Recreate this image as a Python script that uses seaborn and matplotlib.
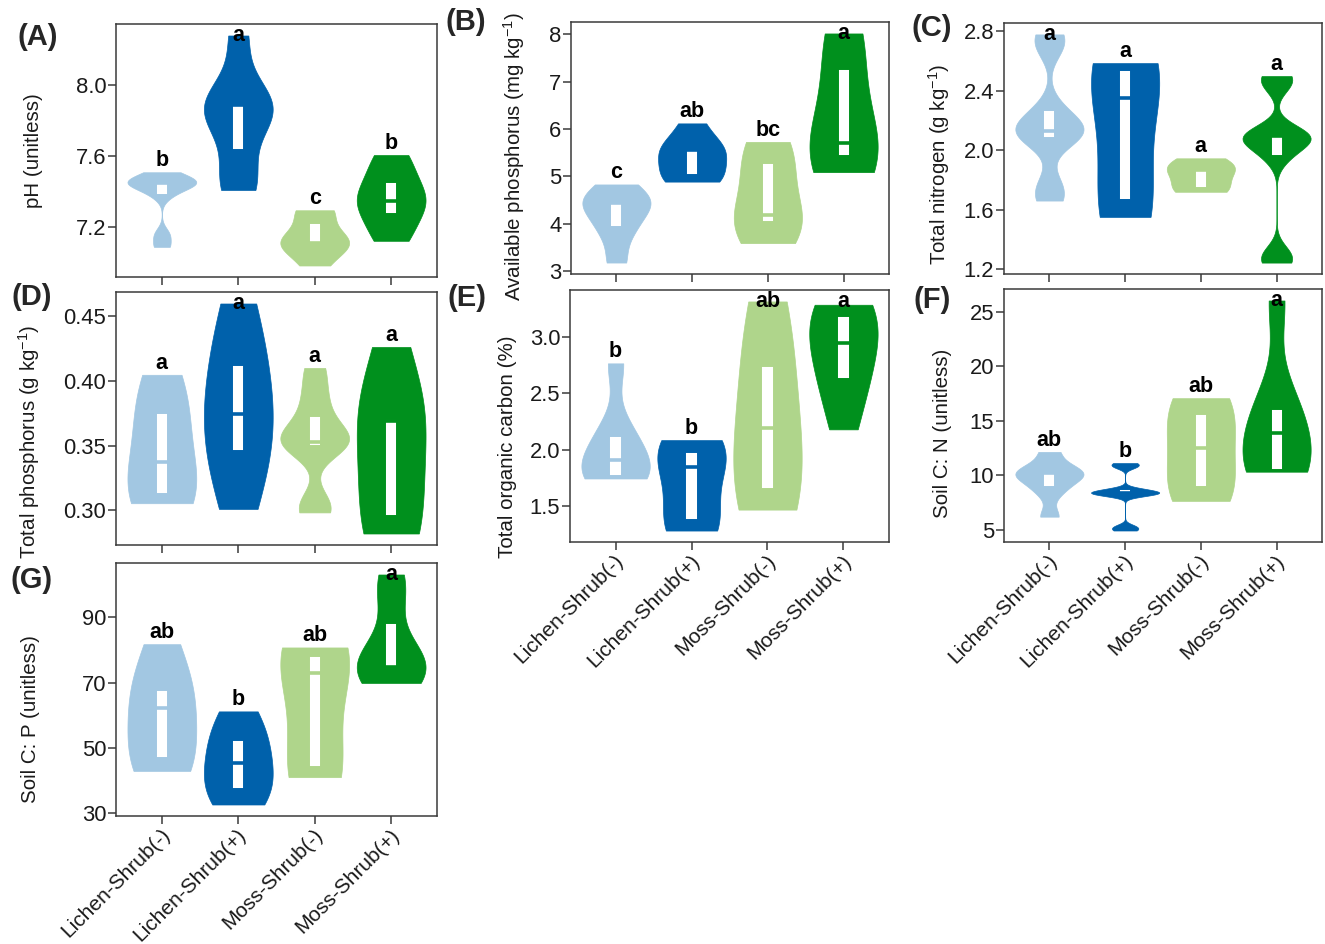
import numpy as np
import pandas as pd
import matplotlib
matplotlib.use('Agg')
import matplotlib.pyplot as plt
import matplotlib.transforms as mtransforms
import seaborn as sns

sns.set_style('ticks')
plt.rcParams['font.family'] = ['Liberation Sans', 'DejaVu Sans']
plt.rcParams['mathtext.fontset'] = 'custom'
plt.rcParams['mathtext.rm'] = 'Liberation Sans'
plt.rcParams['mathtext.it'] = 'Liberation Sans:italic'
plt.rcParams['mathtext.bf'] = 'Liberation Sans:bold'

groups = ['Lichen-Shrub(-)', 'Lichen-Shrub(+)', 'Moss-Shrub(-)', 'Moss-Shrub(+)']
palette = ['#a2c7e2', '#0061ab', '#afd58b', '#00901d']

ph = [
    [7.09, 7.16, 7.383, 7.43, 7.45, 7.45, 7.454, 7.48, 7.51],
    [7.41, 7.50, 7.77, 7.89, 7.89, 7.91, 8.28],
    [6.985, 7.09, 7.11, 7.11, 7.16, 7.29, 7.296],
    [7.124, 7.22, 7.33, 7.35, 7.40, 7.514, 7.607],
]
avail_p = [
    [3.18, 3.80, 4.06, 4.43, 4.46, 4.50, 4.83],
    [4.89, 4.98, 5.06, 5.55, 5.56, 5.58, 6.12],
    [3.59, 3.95, 4.11, 4.19, 5.10, 5.46, 5.73],
    [5.09, 5.36, 5.50, 5.71, 6.70, 7.84, 8.02],
]
total_n = [
    [1.663, 1.76, 2.083, 2.12, 2.131, 2.17, 2.274, 2.70, 2.78],
    [1.553, 1.62, 1.72, 2.35, 2.50, 2.578, 2.587],
    [1.722, 1.73, 1.766, 1.87, 1.88, 1.89, 1.947],
    [1.246, 1.30, 1.962, 2.05, 2.10, 2.10, 2.105, 2.45, 2.50],
]
total_p = [
    [0.3056, 0.310, 0.3148, 0.3373, 0.368, 0.3834, 0.4049],
    [0.3012, 0.335, 0.357, 0.3745, 0.40, 0.425, 0.460],
    [0.2985, 0.305, 0.350, 0.352, 0.353, 0.360, 0.3727, 0.390, 0.4102],
    [0.2822, 0.29, 0.3018, 0.369, 0.370, 0.372, 0.4264],
]
toc = [
    [1.746, 1.76, 1.778, 1.905, 2.05, 2.184, 2.763],
    [1.286, 1.33, 1.426, 1.85, 1.95, 2.004, 2.085],
    [1.471, 1.56, 1.746, 2.195, 2.50, 2.978, 3.31],
    [2.18, 2.55, 2.698, 2.942, 3.10, 3.26, 3.281],
]
soil_cn = [
    [6.21, 8.5, 9.46, 10.2, 10.3, 10.46, 12.16],
    [4.94, 5.3, 8.23, 8.3, 8.4, 8.55, 8.71, 10.8, 11.13],
    [7.66, 8.5, 9.36, 12.55, 14.8, 16.48, 17.09],
    [10.34, 10.45, 10.59, 13.91, 15.0, 17.24, 26.06],
]
soil_cp = [
    [42.97, 45.0, 48.6, 62.1, 64.0, 71.2, 81.77],
    [32.7, 36.0, 39.0, 45.3, 50.0, 55.0, 61.2],
    [41.07, 43.0, 45.6, 72.9, 76.0, 80.3, 80.77],
    [69.9, 73.5, 74.9, 74.9, 80.0, 96.4, 103.1],
]

# significance letters
ph_letters = ['b', 'a', 'c', 'b']
avail_p_letters = ['c', 'ab', 'bc', 'a']
total_n_letters = ['a', 'a', 'a', 'a']
total_p_letters = ['a', 'a', 'a', 'a']
toc_letters = ['b', 'b', 'ab', 'a']
soil_cn_letters = ['ab', 'b', 'ab', 'a']
soil_cp_letters = ['ab', 'b', 'ab', 'a']

ph_ticks = [7.2, 7.6, 8.0]
avail_p_ticks = [3, 4, 5, 6, 7, 8]
total_n_ticks = [1.2, 1.6, 2.0, 2.4, 2.8]
total_p_ticks = [0.30, 0.35, 0.40, 0.45]
toc_ticks = [1.5, 2.0, 2.5, 3.0]
soil_cn_ticks = [5, 10, 15, 20, 25]
soil_cp_ticks = [30, 50, 70, 90]


def nrd0(vals):
    # R's default violin bandwidth, as a factor of the sample sd
    vals = np.asarray(vals)
    sd = vals.std(ddof=1)
    q75, q25 = np.percentile(vals, [75, 25])
    lo = min(sd, (q75 - q25) / 1.34) if q75 > q25 else sd
    return 0.9 * lo * len(vals) ** -0.2 / sd


def panel(ax, values, letters, ylabel, ticks, fmt, show_x, label_xy):
    df = pd.DataFrame({
        'group': np.repeat(groups, [len(v) for v in values]),
        'value': np.concatenate(values),
    })
    for g, c, v in zip(groups, palette, values):
        sub = df[df['group'] == g]
        sns.violinplot(data=sub, x='group', y='value', order=groups, color=c,
                       saturation=1, inner=None, cut=0, density_norm='width',
                       width=0.9, linewidth=0.5, linecolor=c,
                       bw_method=nrd0(v), bw_adjust=1.25, ax=ax)
        sns.boxplot(data=sub, x='group', y='value', order=groups, color='white',
                    linecolor=c, saturation=1, width=0.16, linewidth=1.4,
                    whis=0, showfliers=False, showcaps=False,
                    medianprops={'linewidth': 2.6}, ax=ax)
    top = max(max(v) for v in values)
    bot = min(min(v) for v in values)
    rng = top - bot
    for i, (v, lab) in enumerate(zip(values, letters)):
        y = min(max(v) + 0.05 * rng, top)
        ax.text(i, y, lab, ha='center', va='center', fontsize=15.5,
                fontweight='bold', color='black')
    ax.set_ylim(bot - 0.05 * rng, top + 0.05 * rng)
    ax.set_xlim(-0.6, 3.6)
    ax.set_yticks(ticks)
    ax.set_yticklabels([fmt.format(t) for t in ticks])
    ax.set_xlabel('')
    ax.set_ylabel(ylabel, fontsize=14.8, color='#1a1a1a')
    ax.yaxis.set_label_coords(*label_xy)
    for s in ax.spines.values():
        s.set_color('#3a3a3a')
        s.set_linewidth(1.1)
    ax.tick_params(axis='both', length=6, width=1.1, color='#3a3a3a',
                   labelsize=15.8, labelcolor='#1a1a1a', pad=1.0)
    if show_x:
        ax.set_xticks(range(len(groups)))
        ax.set_xticklabels(groups, rotation=45, ha='right', va='center',
                           rotation_mode='anchor', fontsize=15)
        ax.tick_params(axis='x', pad=4)
        shift = mtransforms.ScaledTranslation(0.05, -0.02, fig.dpi_scale_trans)
        for t in ax.get_xticklabels():
            t.set_transform(t.get_transform() + shift)
    else:
        ax.tick_params(labelbottom=False)


W, H = 1325, 944
fig = plt.figure(figsize=(W / 100, H / 100), dpi=100)


def px_axes(l, t, r, b):
    return fig.add_axes([l / W, 1 - b / H, (r - l) / W, (b - t) / H])


axA = px_axes(116, 24, 437, 277)
axD = px_axes(116, 292, 437, 545)
axG = px_axes(116, 563, 437, 816)
axB = px_axes(571, 22, 889, 274)
axE = px_axes(570, 290, 889, 542)
axC = px_axes(1004, 23, 1322, 274)
axF = px_axes(1004, 289, 1322, 542)

panel(axA, ph, ph_letters, 'pH (unitless)', ph_ticks, '{:.1f}', False,
      (-0.227, 0.5))
panel(axB, avail_p, avail_p_letters, 'Available phosphorus (mg kg$^{-1}$)',
      avail_p_ticks, '{:d}', False, (-0.138, 0.468))
panel(axC, total_n, total_n_letters, 'Total nitrogen (g kg$^{-1}$)',
      total_n_ticks, '{:.1f}', False, (-0.164, 0.438))
panel(axD, total_p, total_p_letters, 'Total phosphorus (g kg$^{-1}$)',
      total_p_ticks, '{:.2f}', False, (-0.23, 0.407))
panel(axE, toc, toc_letters, 'Total organic carbon (%)', toc_ticks,
      '{:.1f}', True, (-0.166, 0.377))
panel(axF, soil_cn, soil_cn_letters, 'Soil C: N (unitless)', soil_cn_ticks,
      '{:d}', True, (-0.164, 0.429))
panel(axG, soil_cp, soil_cp_letters, 'Soil C: P (unitless)', soil_cp_ticks,
      '{:d}', True, (-0.237, 0.383))

for tag, x, y in [('(A)', 38, 37), ('(B)', 466, 22), ('(C)', 932, 28),
                  ('(D)', 32, 297), ('(E)', 467, 298), ('(F)', 932, 300),
                  ('(G)', 32, 580)]:
    fig.text(x / W, 1 - y / H, tag, ha='center', va='center', fontsize=21,
             fontweight='bold')

fig.savefig('out.png', dpi=100)
